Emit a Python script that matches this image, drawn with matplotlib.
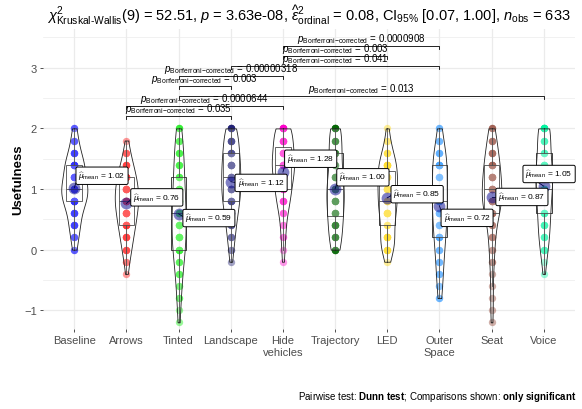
import numpy as np
import matplotlib
matplotlib.use('Agg')
import matplotlib.pyplot as plt

plt.rcParams['font.family'] = ['Liberation Sans', 'DejaVu Sans']
plt.rcParams['mathtext.fontset'] = 'custom'
plt.rcParams['mathtext.rm'] = 'Liberation Sans'
plt.rcParams['mathtext.it'] = 'Liberation Sans:italic'
plt.rcParams['mathtext.bf'] = 'Liberation Sans:bold'

# Usefulness scores (steps of 0.2) and how many answers sit on each step, per condition
levels = [2.0, 1.8, 1.6, 1.4, 1.2, 1.0, 0.8, 0.6, 0.4, 0.2, 0.0, -0.2, -0.4, -0.6, -0.8, -1.0, -1.2]

groups = ['Baseline', 'Arrows', 'Tinted', 'Landscape', 'Hide\nvehicles',
          'Trajectory', 'LED', 'Outer\nSpace', 'Seat', 'Voice']

counts_baseline = [2, 3, 5, 9, 8, 12, 10, 5, 5, 3, 2]
counts_arrows = [0, 1, 3, 5, 8, 9, 10, 8, 7, 5, 4, 2, 1]
counts_tinted = [3, 3, 4, 4, 4, 5, 5, 6, 5, 6, 6, 3, 3, 2, 2, 1, 1]
counts_landscape = [6, 6, 6, 8, 7, 8, 7, 5, 4, 3, 2, 1]
counts_hide = [9, 7, 8, 10, 8, 6, 6, 3, 2, 2, 1, 1]
counts_trajectory = [7, 4, 6, 4, 6, 8, 7, 6, 6, 5, 5]
counts_led = [1, 2, 4, 9, 7, 8, 7, 8, 3, 7, 6, 1]
counts_outer = [2, 3, 4, 9, 4, 5, 7, 6, 4, 6, 3, 3, 3, 2, 2]
counts_seat = [3, 4, 5, 7, 7, 8, 9, 6, 3, 3, 2, 2, 1, 1, 1, 1, 1]
counts_voice = [9, 4, 4, 7, 7, 7, 5, 5, 5, 4, 4, 1, 1]

all_counts = [counts_baseline, counts_arrows, counts_tinted, counts_landscape, counts_hide,
              counts_trajectory, counts_led, counts_outer, counts_seat, counts_voice]

colors = ['#0000FF', '#FF0000', '#00EE00', '#191970', '#FF00CC',
          '#006400', '#FFD700', '#1E90FF', '#8B3A2A', '#00F5A0']

# significant Dunn comparisons (bottom to top)
pair_a = ['Arrows', 'Arrows', 'Tinted', 'Tinted', 'Tinted', 'Landscape', 'Hide\nvehicles', 'Hide\nvehicles']
pair_b = ['Landscape', 'Hide\nvehicles', 'Voice', 'Landscape', 'Hide\nvehicles', 'Outer\nSpace', 'LED', 'Outer\nSpace']
p_values = ['0.035', '0.0000644', '0.013', '0.003', '0.00000318', '0.041', '0.003', '0.0000908']

# where the mean labels were pushed (offsets from the mean point)
label_dx = [0.08, 0.13, 0.13, 0.13, 0.08, 0.08, 0.12, 0.08, 0.13, -0.35]
label_dy = [0.20, 0.10, -0.07, -0.02, 0.22, 0.19, 0.06, -0.20, 0.0, 0.20]


def expand(counts):
    return np.repeat(levels[:len(counts)], counts)


def kde(data, grid):
    n = len(data)
    iqr = np.percentile(data, 75) - np.percentile(data, 25)
    bw = 0.9 * min(np.std(data, ddof=1), iqr / 1.34) * n ** -0.2
    z = (grid[:, None] - data[None, :]) / bw
    return np.exp(-0.5 * z ** 2).sum(axis=1) / (n * bw * np.sqrt(2 * np.pi))


data = [expand(c) for c in all_counts]
n_obs = sum(len(d) for d in data)

fig = plt.figure(figsize=(5.82, 4.10), dpi=100)
ax = fig.add_axes([43 / 582, 80 / 410, 532 / 582, 300 / 410])

xs = np.arange(len(groups))

# points
for i, d in enumerate(data):
    ax.scatter(np.full(len(d), xs[i]), d, s=28, color=colors[i], alpha=0.4,
               linewidths=0, zorder=2)

# boxplots
bp = ax.boxplot(data, positions=xs, widths=0.3, showfliers=False, showcaps=False,
                patch_artist=True, manage_ticks=False, zorder=3)
for b in bp['boxes']:
    b.set_facecolor((1, 1, 1, 0.2))
    b.set_edgecolor('#222222')
    b.set_linewidth(0.6)
for part in ['whiskers', 'medians']:
    for ln in bp[part]:
        ln.set_color('#222222')
        ln.set_linewidth(0.6)

# violins, scaled by area like ggplot
grids = [np.linspace(d.min(), d.max(), 512) for d in data]
dens = [kde(d, g) for d, g in zip(data, grids)]
dmax = max(dd.max() for dd in dens)
for i in range(len(data)):
    half = 0.25 * dens[i] / dmax
    ax.fill_betweenx(grids[i], xs[i] - half, xs[i] + half, facecolor=(1, 1, 1, 0.2),
                     edgecolor='#222222', linewidth=0.6, zorder=4)

# means and their labels
for i, d in enumerate(data):
    m = d.mean()
    tx = xs[i] + label_dx[i]
    ty = m + label_dy[i]
    ax.plot([xs[i], tx], [m, ty], color='black', lw=0.6, zorder=5)
    ax.scatter([xs[i]], [m], s=72, color='#00008B', alpha=0.5, linewidths=0, zorder=5)
    ax.text(tx, ty, r'$\widehat{\mu}_{\mathrm{mean}}$ = %.2f' % m, fontsize=6,
            ha='left', va='center', zorder=6,
            bbox=dict(boxstyle='round,pad=0.3,rounding_size=0.2', fc='white', ec='black', lw=0.7))

# significance brackets
y0 = 2.21
step = 0.165
tip = 0.05
for k in range(len(p_values)):
    a = groups.index(pair_a[k])
    b = groups.index(pair_b[k])
    y = y0 + k * step
    ax.plot([a, a, b, b], [y - tip, y, y, y - tip], color='black', lw=0.6, zorder=7)
    ax.text((a + b) / 2, y + 0.015,
            r'$\mathit{p}_{\text{Bonferroni' + '\u2212' + r'corrected}}$ = ' + p_values[k],
            fontsize=7, ha='center', va='bottom', zorder=7)

ax.set_xlim(-0.6, 9.6)
ax.set_ylim(-1.31, 3.64)
ax.set_xticks(xs)
ax.set_xticklabels(groups)
ax.set_yticks([-1, 0, 1, 2, 3])
ax.set_yticks([-0.5, 0.5, 1.5, 2.5, 3.5], minor=True)
ax.grid(which='major', color='#EBEBEB', lw=0.9, zorder=0)
ax.grid(which='minor', axis='y', color='#EBEBEB', lw=0.5, zorder=0)
ax.set_axisbelow(True)
for s in ax.spines.values():
    s.set_visible(False)
ax.tick_params(axis='both', which='major', length=2.5, width=0.6, color='#333333',
               labelcolor='#4D4D4D', labelsize=8, pad=2)
ax.tick_params(axis='both', which='minor', length=0)

fig.text(18 / 582, 1 - 180 / 410, 'Usefulness', rotation=90, ha='center', va='center',
         fontsize=9.5, fontweight='bold')

title = (r'$\chi^2_{\text{Kruskal-Wallis}}$(9) = 52.51, $\mathit{p}$ = 3.63e-08, '
         r'$\widehat{\varepsilon}^2_{\mathrm{ordinal}}$ = 0.08, CI$_{95\%}$ [0.07, 1.00], '
         r'$\mathit{n}_{\mathrm{obs}}$ = ' + str(n_obs))
fig.text(309 / 582, 1 - 15 / 410, title, ha='center', va='center', fontsize=10.5)

fig.text(576 / 582, 1 - 397 / 410,
         r'Pairwise test: $\mathbf{Dunn\ test}$; Comparisons shown: $\mathbf{only\ significant}$',
         ha='right', va='center', fontsize=7.0)

fig.savefig('out.png', dpi=100)
